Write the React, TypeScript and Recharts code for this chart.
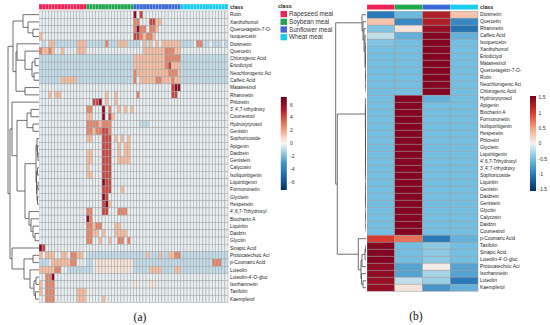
import React from "react";
import { ScatterChart, Scatter, XAxis, YAxis } from "recharts";

const classNames = ["Rapeseed meal", "Soybean meal", "Sunflower meal", "Wheat meal"];
const classColors = ["#ef2456", "#1ea84b", "#3b69d7", "#18cdef"];

// panel (a): 15 samples per meal, one char per cell
const leftCompounds = [
  "Rutin", "Xanthohumol", "Quercetagetin-7-O-", "Isoquercetin", "Diosmetin", "Quercetin",
  "Chlorogenic Acid", "Eriodictyol", "Neochlorogenic Aci", "Caffeic Acid", "Matairesinol",
  "Rhamnetin", "Phloretin", "3',4',7-trihydroxy", "Coumestrol", "Hydroxytyrosol", "Genistin",
  "Sophoricoside", "Apigenin", "Daidzein", "Genistein", "Calycosin", "Isoliquiritigenin",
  "Liquiritigenin", "Formononetin", "Glycitein", "Hesperetin", "4',6,7-Trihydroxyl",
  "Biochanin A", "Liquiritin", "Daidzin", "Glycitin", "Sinapic Acid", "Protocatechuic Aci",
  "p-Coumaric Acid", "Luteolin", "Luteolin-4'-O-gluc", "Isorhamnetin", "Taxifolin", "Kaempferol",
];

const leftHeat = [
  "............... ............... 4.3............ ...............",
  "............... ............... 22...3311...... ...............",
  "............... ............... 2422.221....... ...............",
  "1.............. ............... 3321221........ ...............",
  ".b.11bbbbbbb111 bbbbbb2bbb111bb bb.1b1.1.111111 bbbb.22bb.bbb.b",
  "21121..1....111 ............... ...111111122211 ...............",
  "bbbbbbbbbbbbbbb bbbbbbbbbbbbbbb 111111111122222 bbbbbbbbbbbbbbb",
  "bbbbbbbbbbbbbbb bbbbbbbbbbbbbbb 111111111123111 bbbbbbbbbbbbbbb",
  "bbbbbbbbbbbbbbb bbbbbbbbbbbbbbb 211111111112221 bbbbbbbbbbbbbbb",
  "bbbbbbb11111bbb bbbbbbbbbbbbbbb 2.1111122111211 bbbbbbbbbbbbbbb",
  "............... ............... ............344 ...............",
  "...1.11........ ......1..1..... .2..........33. ...............",
  "............... ..334.1..1..... ............... ...............",
  "............... 22...4.2..1.1.1 ............... ...............",
  "............... 11...4.31...... ............... ...............",
  "............... 22221222....... ..bbb.......... ...............",
  "............... 22122332....... ............... ...............",
  "............... 11...333.1.1.1. ............... ...............",
  "............... .....333..1.11. ............... ...............",
  "............... 11...333..1.11. ............... ...............",
  "............... 11...333..1111. ............... ...............",
  "............... 1....333....... ............... ...............",
  "............... 11...333....... ............... ...............",
  "............... .....433....... ............... ...............",
  "............... .....333...1... ............... ...............",
  "............... .....43........ ............... ...............",
  "............... .....341....... ............... ...............",
  "............... 22...33...222.. ............... ...............",
  "............... 42............. ............... ...............",
  "............... 22122....11.... ............... ...............",
  "............... 2211.1...1111.. ............... ...............",
  "............... 22..1..1..22.2. ............... ...............",
  "43............. ............... ............... ...............",
  "1.111..11.2211. bbbbbbbbbbbbbbb bbbb1bbb1bb1122 bbbbbbbbbbbbbbb",
  "bbb.11111122... bb.pppppppppppp bbbbbbbbbbbbbbb bbbbbbbbbb222bb",
  "1111122..bbbbbb bb.ppppppppppp. bbbbb1111bbbb11 bbbbbbbbbbbbbbb",
  "..224.......... ............... ............... ...............",
  "1.222.......... ............... p....pp........ ...............",
  "1.222.......111 ............... ............... ...............",
  "..222.......111 .....1......... ............... ...............",
];

const levelValue: Record<string, number> = {
  b: -0.85, ".": -0.2, p: 0.5, "1": 1.5, "2": 2.8, "3": 4.2, "4": 6.2,
};

// panel (b): class means, scaled
const rightCompounds = [
  "Diosmetin", "Quercetin", "Rhamnetin", "Caffeic Acid", "Isoquercetin", "Xanthohumol",
  "Eriodictyol", "Matairesinol", "Quercetagetin-7-O-", "Rutin", "Neochlorogenic Aci",
  "Chlorogenic Acid", "Hydroxytyrosol", "Apigenin", "Biochanin A", "Formononetin",
  "Isoliquiritigenin", "Hesperetin", "Phloretin", "Glycitein", "Liquiritigenin",
  "4',6,7-Trihydroxyl", "3',4',7-trihydroxy", "Sophoricoside", "Liquiritin", "Genistin",
  "Daidzein", "Genistein", "Glycitin", "Calycosin", "Daidzin", "Coumestrol",
  "p-Coumaric Acid", "Taxifolin", "Sinapic Acid", "Luteolin-4'-O-gluc",
  "Protocatechuic Aci", "Isorhamnetin", "Luteolin", "Kaempferol",
];
const rapeseedZ = [-1.0, 0.3, -0.45, -0.2, -0.45, -0.5, -0.5, -0.5, -0.5, -0.5, -0.5, -0.5,
  -0.5, -0.5, -0.5, -0.5, -0.5, -0.5, -0.5, -0.5, -0.5, -0.5, -0.5, -0.5, -0.5, -0.5, -0.5,
  -0.5, -0.5, -0.5, -0.5, -0.5, 1.0, 1.5, 1.5, 1.5, 1.45, 1.45, 1.4, 1.4];
const soybeanZ = [-0.55, -0.9, 0.1, -0.6, -0.5, -0.5, -0.5, -0.5, -0.5, -0.5, -0.5, -0.5,
  1.5, 1.5, 1.5, 1.5, 1.5, 1.5, 1.5, 1.5, 1.5, 1.5, 1.5, 1.5, 1.5, 1.5, 1.5, 1.5, 1.5, 1.5,
  1.5, 1.5, 0.75, -0.5, -0.5, -0.5, -0.7, -0.7, -0.2, 0.1];
const sunflowerZ = [1.25, 1.25, 1.4, 1.5, 1.5, 1.5, 1.5, 1.5, 1.5, 1.5, 1.5, 1.5,
  -0.6, -0.5, -0.5, -0.5, -0.5, -0.5, -0.5, -0.5, -0.5, -0.5, -0.5, -0.5, -0.5, -0.5, -0.5,
  -0.5, -0.5, -0.5, -0.5, -0.5, -1.0, -0.4, -0.4, -0.4, 0.05, -0.3, -0.35, -0.8];
const wheatZ = [0.3, -0.9, -1.05, -0.6, -0.5, -0.5, -0.5, -0.5, -0.5, -0.5, -0.5, -0.5,
  -0.5, -0.5, -0.5, -0.5, -0.5, -0.5, -0.5, -0.5, -0.5, -0.5, -0.5, -0.5, -0.5, -0.5, -0.5,
  -0.5, -0.5, -0.5, -0.5, -0.5, -0.6, -0.5, -0.5, -0.5, -0.7, -0.7, -1.0, -0.6];

const leftLegendTicks = [6, 4, 2, 0, -2, -4, -6];
const rightLegendTicks = [1.5, 1, 0.5, 0, -0.5, -1, -1.5];

// dendrograms: [height, left, right], leaves = row index
type Tree = number | [number, Tree, Tree];

const leftTree: Tree = [31,
  [26,
    [16, 0, [11, 1, [6, 2, 3]]],
    [23, [22, 4, [14, 5, [7, [4, 6, 7], [5, 8, 9]]]], [14, 10, 11]]],
  [29,
    [27, 12, [22, [12, [8, 13, 14], [6, 15, 16]],
      [14,
        [3, [2, 17, [1.5, 18, [1, 19, 20]]], [2.5, [1.5, 21, 22], [2, [1, 23, 24], [1.5, 25, 26]]]],
        [10, 27, [8, 28, [6, 29, [4, 30, 31]]]]]]],
    [27, 32, [15, [6, 33, 34], [9, 35, [5, [3, 36, 37], [3.5, 38, 39]]]]]],
];

const rightTree: Tree = [30.3,
  [4, 0, [3, 1, [2, 2, [1, 3, [0.3, [0.2, [0.1, 4, 5], [0.1, 6, 7]], [0.2, [0.1, 8, 9], [0.1, 10, 11]]]]]]],
  [28.7,
    [0.6, 12, [0.3, [0.25, 13, 14], [0.2, 15, [0.15,
      [0.1, [0.05, [0.03, 16, 17], [0.03, 18, 19]], [0.05, [0.03, 20, 21], [0.03, 22, 23]]],
      [0.1, [0.05, [0.03, 24, 25], [0.03, 26, 27]], [0.05, [0.03, 28, 29], [0.03, 30, 31]]]]]]],
    [7.7, 32, [5, [4, [1, [0.3, 33, 34], 35], 36], [4.5, 37, [3, 38, 39]]]]],
];

type Stop = [number, string];
const leftStops: Stop[] = [
  [-7.2, "#053061"], [-5, "#2166ac"], [-3, "#4393c3"], [-1.6, "#92c5de"], [-0.6, "#d1e5f0"],
  [0, "#f4f4f4"], [0.8, "#fddbc7"], [2, "#f4a582"], [3.6, "#d6604d"], [5.2, "#b2182b"], [7.2, "#67001f"],
];
const rightStops: Stop[] = [
  [-1.55, "#053061"], [-1.0, "#2a7ab9"], [-0.5, "#74bfe1"], [0, "#f5f3f1"],
  [0.5, "#f4a582"], [1.0, "#d73a2e"], [1.55, "#7c0020"],
];

function hexToRgb(h: string) {
  const n = parseInt(h.slice(1), 16);
  return [(n >> 16) & 255, (n >> 8) & 255, n & 255];
}
function colorScale(stops: Stop[]) {
  return (v: number) => {
    if (v <= stops[0][0]) return stops[0][1];
    for (let i = 1; i < stops.length; i++) {
      if (v <= stops[i][0]) {
        const t = (v - stops[i - 1][0]) / (stops[i][0] - stops[i - 1][0]);
        const a = hexToRgb(stops[i - 1][1]);
        const b = hexToRgb(stops[i][1]);
        const c = a.map((x, k) => Math.round(x + (b[k] - x) * t));
        return `rgb(${c[0]},${c[1]},${c[2]})`;
      }
    }
    return stops[stops.length - 1][1];
  };
}
const leftColor = colorScale(leftStops);
const rightColor = colorScale(rightStops);

const FONT = "'Liberation Sans', Arial, sans-serif";

type HeatProps = {
  values: number[][];
  labels: string[];
  perClass: number;
  plotW: number;
  labelW: number;
  chartH: number;
  top: number;
  bottom: number;
  color: (v: number) => string;
  gridStroke: string;
};

function Heatmap({ values, labels, perClass, plotW, labelW, chartH, top, bottom, color, gridStroke }: HeatProps) {
  const rows = labels.length;
  const nCols = values[0].length;
  const cw = plotW / nCols;
  const ch = (chartH - top - bottom) / (rows + 1);
  const cells: { x: number; y: number; v: number }[] = [];
  values.forEach((row, r) => row.forEach((v, c) => cells.push({ x: c, y: r, v })));
  const classCells = values[0].map((_, c) => ({ x: c, y: -1, k: Math.floor(c / perClass) }));
  const ticks = [-1, ...labels.map((_, i) => i)];

  const cellShape = (p: any) => (
    <rect x={p.cx - cw / 2} y={p.cy - ch / 2} width={cw} height={ch}
      fill={color(p.payload.v)} stroke={gridStroke} strokeWidth={0.5} />
  );
  const classShape = (p: any) => (
    <rect x={p.cx - cw / 2} y={p.cy - ch / 2 + 0.4} width={cw} height={ch - 2}
      fill={classColors[p.payload.k]} stroke="rgba(255,255,255,0.35)" strokeWidth={0.4} />
  );
  const tick = (p: any) => {
    const i = p.payload.value;
    const head = i === -1;
    return (
      <text x={p.x} y={p.y} dy={1.7} textAnchor="start" fontFamily={FONT}
        fontSize={head ? 5.3 : 4.8} fontWeight={head ? 700 : 400} fill="#222">
        {head ? "class" : labels[i]}
      </text>
    );
  };

  return (
    <ScatterChart width={plotW + labelW} height={chartH} margin={{ top, right: 0, bottom, left: 0 }}>
      <XAxis type="number" dataKey="x" domain={[-0.5, nCols - 0.5]} hide />
      <YAxis type="number" dataKey="y" domain={[-1.5, rows - 0.5]} reversed orientation="right"
        width={labelW} ticks={ticks} interval={0} tickSize={0} tickMargin={2}
        axisLine={false} tickLine={false} tick={tick} />
      <Scatter data={classCells} shape={classShape} isAnimationActive={false} />
      <Scatter data={cells} shape={cellShape} isAnimationActive={false} />
    </ScatterChart>
  );
}

type Pt = { h: number; y: number };
function layoutTree(t: Tree, segs: Pt[][]): Pt {
  if (typeof t === "number") return { h: 0, y: t };
  const [h, a, b] = t;
  const l = layoutTree(a, segs);
  const r = layoutTree(b, segs);
  segs.push([{ h: l.h, y: l.y }, { h, y: l.y }, { h, y: r.y }, { h: r.h, y: r.y }]);
  return { h, y: (l.y + r.y) / 2 };
}

function Dendrogram({ tree, rows, width, chartH, top, bottom }: {
  tree: Tree; rows: number; width: number; chartH: number; top: number; bottom: number;
}) {
  const segs: Pt[][] = [];
  layoutTree(tree, segs);
  return (
    <ScatterChart width={width} height={chartH} margin={{ top, right: 0, bottom, left: 0 }}>
      <XAxis type="number" dataKey="h" domain={[0, width]} reversed hide />
      <YAxis type="number" dataKey="y" domain={[-1.5, rows - 0.5]} reversed hide />
      {segs.map((s, i) => (
        <Scatter key={i} data={s} line={{ stroke: "#4a4a4a", strokeWidth: 0.8 }} lineType="joint"
          shape={() => <g />} isAnimationActive={false} />
      ))}
    </ScatterChart>
  );
}

function ColorBar({ id, x, y0, y1, vmax, vmin, stops, ticks, labelX }: {
  id: string; x: number; y0: number; y1: number; vmax: number; vmin: number;
  stops: Stop[]; ticks: number[]; labelX: number;
}) {
  const ys = (v: number) => y0 + ((vmax - v) / (vmax - vmin)) * (y1 - y0);
  const ordered = [...stops].reverse();
  return (
    <g>
      <defs>
        <linearGradient id={id} x1="0" y1="0" x2="0" y2="1">
          {ordered.map(([v, c], i) => (
            <stop key={i} offset={Math.min(1, Math.max(0, (vmax - v) / (vmax - vmin)))} stopColor={c} />
          ))}
        </linearGradient>
      </defs>
      <rect x={x} y={y0} width={6} height={y1 - y0} fill={`url(#${id})`} />
      {ticks.map((t) => (
        <text key={t} x={labelX} y={ys(t) + 1.8} fontSize={5} fontFamily={FONT} fill="#333">{t}</text>
      ))}
    </g>
  );
}

export default function App() {
  const leftValues = leftHeat.map((s) => s.replace(/ /g, "").split("").map((k) => levelValue[k] ?? -0.2));
  const rightValues = rightCompounds.map((_, i) => [rapeseedZ[i], soybeanZ[i], sunflowerZ[i], wheatZ[i]]);

  return (
    <div style={{ position: "absolute", left: 0, top: 0, width: 550, height: 325, background: "#fff", overflow: "hidden" }}>
      <div style={{ position: "absolute", left: 6, top: 0 }}>
        <Dendrogram tree={leftTree} rows={40} width={33} chartH={303} top={3.7} bottom={0.3} />
      </div>
      <div style={{ position: "absolute", left: 39, top: 0 }}>
        <Heatmap values={leftValues} labels={leftCompounds} perClass={15} plotW={189} labelW={48}
          chartH={303} top={3.7} bottom={0.3} color={leftColor} gridStroke="#a3a3a3" />
      </div>
      <div style={{ position: "absolute", left: 300, top: 0 }}>
        <Dendrogram tree={rightTree} rows={40} width={66} chartH={292} top={4.2} bottom={0.8} />
      </div>
      <div style={{ position: "absolute", left: 367, top: 0 }}>
        <Heatmap values={rightValues} labels={rightCompounds} perClass={1} plotW={111} labelW={52}
          chartH={292} top={4.2} bottom={0.8} color={rightColor} gridStroke="#9a9a9a" />
      </div>
      <svg width={550} height={325} style={{ position: "absolute", left: 0, top: 0, pointerEvents: "none" }}>
        <text x={278} y={8.3} fontSize={5.5} fontWeight={700} fontFamily={FONT} fill="#222">class</text>
        {classNames.map((n, i) => (
          <g key={n}>
            <rect x={280.5} y={11 + i * 7.7} width={6.5} height={6.2} fill={classColors[i]} />
            <text x={289} y={16.3 + i * 7.7} fontSize={6.3} fontFamily={FONT} fill="#333">{n}</text>
          </g>
        ))}
        <ColorBar id="lg" x={280.8} y0={97} y1={190} vmax={7.2} vmin={-7.2} stops={leftStops}
          ticks={leftLegendTicks} labelX={290} />
        <ColorBar id="rg" x={530} y0={96} y1={191} vmax={1.55} vmin={-1.55} stops={rightStops}
          ticks={rightLegendTicks} labelX={538.5} />
        <text x={140} y={321} textAnchor="middle" fontSize={11.5} fontFamily="'Liberation Serif', 'Times New Roman', serif" fill="#111">(a)</text>
        <text x={416} y={320} textAnchor="middle" fontSize={11.5} fontFamily="'Liberation Serif', 'Times New Roman', serif" fill="#111">(b)</text>
      </svg>
    </div>
  );
}
